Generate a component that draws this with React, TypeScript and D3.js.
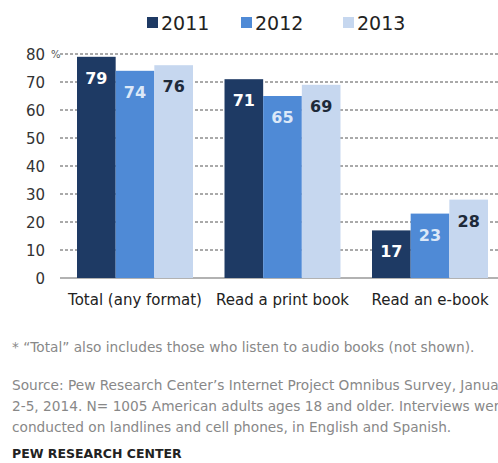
import React from "react";
import * as d3 from "d3";

const categories = ["Total (any format)", "Read a print book", "Read an e-book"];
const years = ["2011", "2012", "2013"];
const values2011 = [79, 71, 17];
const values2012 = [74, 65, 23];
const values2013 = [76, 69, 28];
const yTicks = [0, 10, 20, 30, 40, 50, 60, 70, 80];
const colors = ["#1e3a64", "#4f8ad6", "#c6d7ef"];
const labelColors = ["#ffffff", "#dce8f8", "#1e2a3a"];
const footnote = "* \u201cTotal\u201d also includes those who listen to audio books (not shown).";
const sourceLines = [
  "Source: Pew Research Center\u2019s Internet Project Omnibus Survey, January",
  "2-5, 2014. N= 1005 American adults ages 18 and older. Interviews were",
  "conducted on landlines and cell phones, in English and Spanish.",
];
const credit = "PEW RESEARCH CENTER";

export default function App() {
  const W = 498, H = 463;
  const series = [values2011, values2012, values2013];
  const y = d3.scaleLinear().domain([0, 80]).range([278, 54]);
  const x0 = d3.scaleBand().domain(categories).range([61, 504]).paddingInner(0.2136).paddingOuter(0.1085);
  const x1 = d3.scaleBand().domain(years).range([0, x0.bandwidth()]);
  const font = "'DejaVu Sans', sans-serif";
  return (
    <svg width={W} height={H} style={{ position: "absolute", left: 0, top: 0, background: "#fff" }}>
      {/* legend */}
      {years.map((yr, i) => {
        const lx = [147, 241, 343][i];
        return (
          <g key={yr}>
            <rect x={lx} y={17} width={11} height={11} fill={colors[i]} />
            <text x={lx + 14} y={29.5} fontFamily={font} fontSize={19} fill="#222">{yr}</text>
          </g>
        );
      })}
      {/* gridlines */}
      {yTicks.map((t) => (
        <g key={t}>
          {t > 0 && (
            <line x1={60} x2={W} y1={y(t)} y2={y(t)} stroke="#555" strokeWidth={1} strokeDasharray="3,2" />
          )}
          <text x={45} y={y(t) + 5.5} textAnchor="end" fontFamily={font} fontSize={15} fill="#333">{t}</text>
        </g>
      ))}
      <text x={51} y={y(80) + 4} fontFamily={font} fontSize={10} fill="#555">%</text>
      <line x1={60} x2={W} y1={y(0)} y2={y(0)} stroke="#999" strokeWidth={1.5} />
      {/* bars */}
      {categories.map((c, ci) => (
        <g key={c} transform={`translate(${x0(c)},0)`}>
          {years.map((yr, si) => {
            const v = series[si][ci];
            const bx = x1(yr)!;
            return (
              <g key={yr}>
                <rect x={bx} y={y(v)} width={x1.bandwidth()} height={y(0) - y(v)} fill={colors[si]} />
                <text x={bx + x1.bandwidth() / 2} y={y(v) + 27} textAnchor="middle" fontFamily={font}
                  fontWeight="bold" fontSize={16} fill={labelColors[si]}>{v}</text>
              </g>
            );
          })}
          <text x={x0.bandwidth() / 2} y={305} textAnchor="middle" fontFamily={font} fontSize={15} fill="#222">{c}</text>
        </g>
      ))}
      {/* footer */}
      <text x={12} y={352} fontFamily={font} fontSize={13.7} fill="#888">{footnote}</text>
      {sourceLines.map((s, i) => (
        <text key={i} x={12} y={390 + i * 21} fontFamily={font} fontSize={13.7} fill="#888">{s}</text>
      ))}
      <text x={12} y={458} fontFamily={font} fontSize={12.5} fontWeight="bold" fill="#222">{credit}</text>
    </svg>
  );
}
